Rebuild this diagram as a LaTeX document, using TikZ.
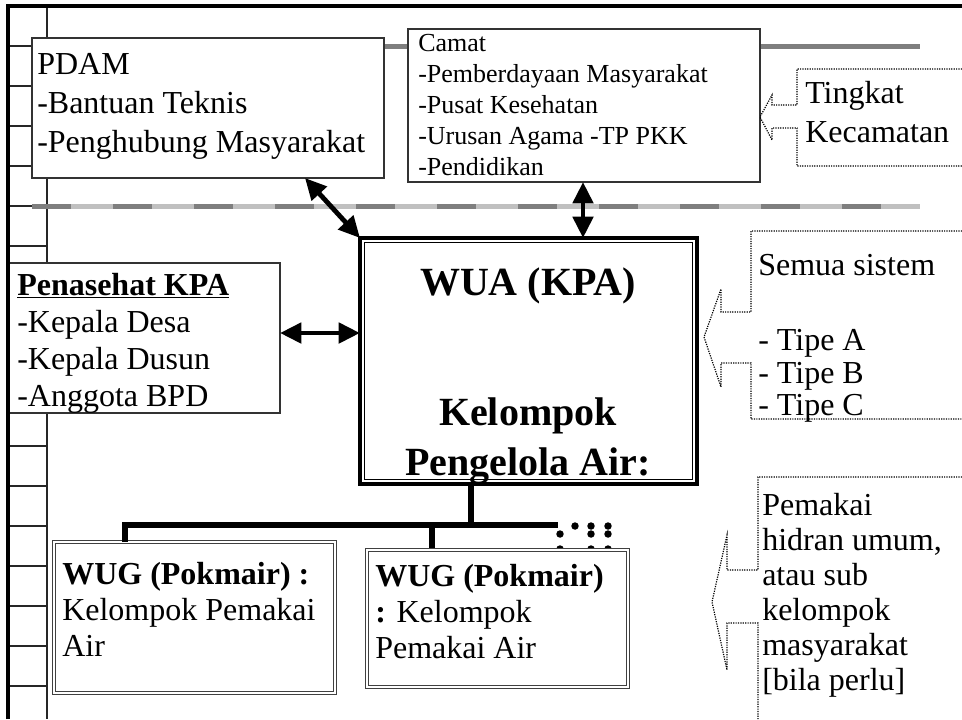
\documentclass[tikz,border=0pt]{standalone}
\usepackage{fontspec}
\setmainfont{Liberation Serif}
\usetikzlibrary{arrows.meta,calc,fit}
\definecolor{dkgray}{HTML}{7F7F7F}
\definecolor{ltgray}{HTML}{C0C0C0}
\begin{document}
\begin{tikzpicture}[x=0.75pt,y=-0.75pt,
  thinln/.style={draw=black!85, line width=0.9pt},
  frameln/.style={draw=black, line width=2.4pt},
  box/.style={draw=black!80, line width=0.9pt, fill=white, inner sep=0pt, outer sep=0pt},
  wbox/.style={draw=black!75, double=white, double distance=2pt, line width=0.7pt, fill=white, inner sep=0pt, outer sep=0pt},
  dotl/.style={draw=black, line width=0.9pt, dash pattern=on 0.9pt off 0.9pt},
  dbl/.style={line width=3.6pt, {Triangle[length=16pt,width=15pt]}-{Triangle[length=16pt,width=15pt]}},
  trunk/.style={line width=5pt},
  t32/.style={anchor=base west, inner sep=0pt, font=\fontsize{24}{24}\selectfont},
  t26/.style={anchor=base west, inner sep=0pt, font=\fontsize{19.5}{19.5}\selectfont},
  t40/.style={anchor=base, inner sep=0pt, font=\fontsize{30}{30}\selectfont\bfseries}
]
\useasboundingbox (0,0) rectangle (962,719);
\fill[white] (0,0) rectangle (962,719);

% left ruler
\draw[thinln] (47,6) -- (47,719);
\foreach \y in {46,86,...,686} \draw[thinln] (8,\y) -- (47,\y);

% grey level lines
\draw[dkgray, line width=3.75pt] (200,46) -- (920,46);
\draw[ltgray, line width=3.75pt] (32,206) -- (920,206);
\draw[dkgray, line width=3.75pt, dash pattern=on 29.25pt off 31.5pt] (32,206) -- (920,206);

% boxes
\node[box, fit={(32,38) (384,178)}] (pdam) {};
\node[box, fit={(408,29) (760,182)}] (camat) {};
\node[box, fit={(8,263) (280,413)}] (pen) {};
\node[fit={(360,238) (697,484)}, inner sep=0pt, outer sep=0pt, draw, line width=3pt, fill=white] (wua) {};
\draw[line width=1.1pt] ($(wua.north west)+(4.5,4.5)$) rectangle ($(wua.south east)+(-4.5,-4.5)$);
\node[wbox, fit={(54,542) (335,693)}] (wug1) {};

% frame
\draw[frameln] (8,719) -- (8,6) -- (962,6);

% callouts
\draw[dotl] (962,69) -- (797,69) -- (797,105) -- (772,105) -- (772,95) -- (760,117) -- (772,140) -- (772,128) -- (797,128) -- (797,166) -- (962,166);
\draw[dotl] (962,231) -- (751,231) -- (751,312) -- (721,312) -- (721,289) -- (704,337) -- (721,387) -- (721,363) -- (751,363) -- (751,419) -- (962,419);
\draw[dotl] (962,477) -- (758,477) -- (758,570) -- (727,570) -- (727,535) -- (712,602) -- (727,670) -- (727,623) -- (758,623) -- (758,719);

% connectors
\coordinate (pax) at (305,0);
\coordinate (cax) at (583,0);
\coordinate (say) at (0,333);
\coordinate (tx) at (471,0);
\coordinate (brL) at (125,525);
\coordinate (brR) at (558,525);
\coordinate (s2) at (432,0);
\draw[dbl] (pdam.south -| pax) -- (wua.north west);
\draw[dbl] (camat.south -| cax) -- (wua.north -| cax);
\draw[dbl] (pen.east |- say) -- (wua.west |- say);
\draw[trunk] (wua.south -| tx) -- (tx |- brL);
\draw[trunk, line width=5.2pt] (wug1.north -| brL) -- (brL) -- (brR);
\draw[trunk, line width=5.2pt] ($(s2 |- brL)+(0,30)$) -- (s2 |- brL);
\foreach \p in {(560,534),(575,526),(591,526),(591,534),(608,526),(608,534),(560,549),(591,549),(608,549)}
  \fill \p circle[radius=2.8pt];
\node[wbox, fit={(367,550) (628,687)}] (wug2) {};

% texts
\node[t32] (pdam1) at (37,74) {PDAM};
\node[t32] (pdam2) at (37,113) {-Bantuan Teknis};
\node[t32] (pdam3) at (37,152) {-Penghubung Masyarakat};

\node[t26] (cam1) at (418,51) {Camat};
\node[t26] (cam2) at (418,82) {-Pemberdayaan Masyarakat};
\node[t26] (cam3) at (418,113) {-Pusat Kesehatan};
\node[t26] (cam4) at (418,144) {-Urusan Agama -TP PKK};
\node[t26] (cam5) at (418,175) {-Pendidikan};

\node[t32] (tk1) at (805,103) {Tingkat};
\node[t32] (tk2) at (805,142) {Kecamatan};

\node[t32] (sm1) at (758,275) {Semua sistem};
\node[t32] (sm2) at (758,350) {- Tipe A};
\node[t32] (sm3) at (758,383) {- Tipe B};
\node[t32] (sm4) at (758,415) {- Tipe C};

\node[t32] (pn1) at (17,295) {\bfseries\underline{Penasehat KPA}};
\node[t32] (pn2) at (17,332) {-Kepala Desa};
\node[t32] (pn3) at (17,369) {-Kepala Dusun};
\node[t32] (pn4) at (17,406) {-Anggota BPD};

\node[t40] (wu1) at (528,295) {WUA (KPA)};
\node[t40] (wu2) at (528,425) {Kelompok};
\node[t40] (wu3) at (528,475) {Pengelola Air:};

\node[t32] (g11) at (62,584) {\bfseries WUG (Pokmair) :};
\node[t32] (g12) at (62,620) {Kelompok Pemakai};
\node[t32] (g13) at (62,656) {Air};

\node[t32] (g21) at (375,586) {\bfseries WUG (Pokmair)};
\node[t32] (g22) at (375,622) {\textbf{:} Kelompok};
\node[t32] (g23) at (375,658) {Pemakai Air};

\node[t32] (pm1) at (762,515) {Pemakai};
\node[t32] (pm2) at (762,550) {hidran umum,};
\node[t32] (pm3) at (762,585) {atau sub};
\node[t32] (pm4) at (762,620) {kelompok};
\node[t32] (pm5) at (762,655) {masyarakat};
\node[t32] (pm6) at (762,690) {[bila perlu]};
\end{tikzpicture}
\end{document}
